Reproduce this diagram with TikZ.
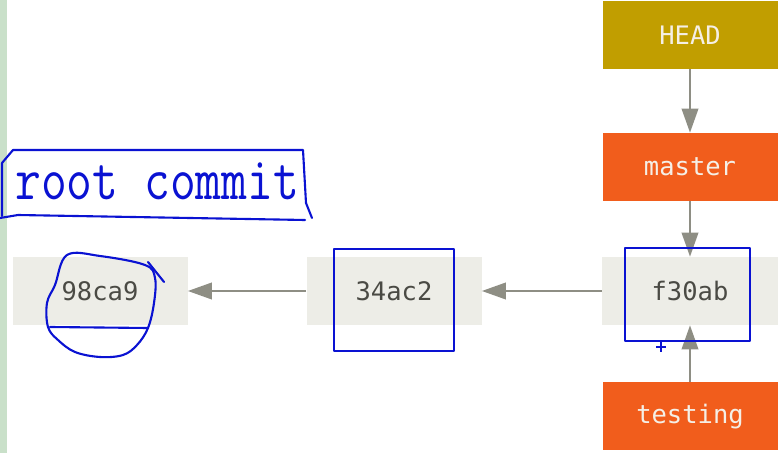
\documentclass[tikz,border=0pt]{standalone}
\usepackage{fontspec}
\newfontfamily\hashfont{DejaVu Sans Mono}
\usetikzlibrary{arrows.meta,calc,positioning}
\definecolor{commitfill}{HTML}{EDEDE7}
\definecolor{commitText}{HTML}{4A4A44}
\definecolor{headfill}{HTML}{C19E00}
\definecolor{branchfill}{HTML}{F15D1C}
\definecolor{labelText}{HTML}{F5EFE6}
\definecolor{link}{HTML}{8E8E84}
\definecolor{ink}{HTML}{0A12D2}
\definecolor{sidebar}{HTML}{C9E0C9}
\tikzset{
  box/.style={
    minimum width=3.5cm,
    minimum height=1.36cm,
    inner sep=0pt,
    font=\hashfont\fontsize{14.5}{16}\selectfont
  },
  commit/.style={box, fill=commitfill, text=commitText},
  pointer/.style={box, fill=branchfill, text=labelText},
  headref/.style={box, fill=headfill, text=labelText},
  parent/.style={line width=1.2pt, draw=link, -{Triangle[length=4.8mm,width=3.3mm]}},
  scribble/.style={draw=ink, line width=1.2pt, line cap=round, line join=round}
}
\begin{document}
\begin{tikzpicture}[x=1cm,y=1cm]
\path[use as bounding box] (0,0) rectangle (15.58,9.06);
\fill[white] (0,0) rectangle (15.58,9.06);
\fill[sidebar] (0,0) rectangle (0.14,9.06);

% commits
\node[commit] (c1) at (2.0,3.24) {98ca9};
\node[commit] (c2) at (7.88,3.24) {34ac2};
\node[commit, minimum width=3.52cm] (c3) at (13.8,3.24) {f30ab};

% refs
\node[headref] (head) at (13.8,8.36) {HEAD};
\node[pointer] (master) at (13.8,5.72) {master};
\node[pointer] (testing) at (13.8,0.73) {testing};

\draw[parent] (c3) -- (c2);
\draw[parent] (c2) -- (c1);
\draw[parent] (head) -- (master);
\draw[parent] (master) -- (c3);
\draw[parent] (testing) -- (c3);

% hand annotations
\node[anchor=base west, inner sep=0pt, text=ink] (rootnote) at (0.3,5.06)
  {\scalebox{1}[1.22]{\ttfamily\fontsize{28.5}{31}\selectfont root commit}};
\draw[scribble] (0.26,6.06) -- (6.06,6.06) -- (6.12,5.0) -- (6.24,4.7);
\draw[scribble] (6.1,4.66) -- (0.36,4.76) -- (0.0,4.7);
\draw[scribble] (0.04,4.74) -- (0.04,5.8) -- (0.26,6.06);
\draw[scribble] plot[smooth cycle, tension=0.6] coordinates
  {(1.34,3.96) (2.0,3.94) (2.9,3.76) (3.1,3.5) (3.08,3.0) (2.96,2.5) (2.74,2.16)
   (2.46,1.96) (2.0,1.92) (1.5,2.02) (1.16,2.26) (0.96,2.52) (0.94,3.0) (1.1,3.36)};
\draw[scribble] (2.96,3.82) -- (3.28,3.42);
\draw[scribble] (1.0,2.52) -- (2.96,2.5);
\draw[scribble] (6.68,2.04) rectangle (9.08,4.08);
\draw[scribble] (12.5,2.24) rectangle (15.0,4.1);
\draw[ink, line width=0.9pt] (13.12,2.12) -- (13.32,2.12) (13.22,2.02) -- (13.22,2.22);
\end{tikzpicture}
\end{document}
